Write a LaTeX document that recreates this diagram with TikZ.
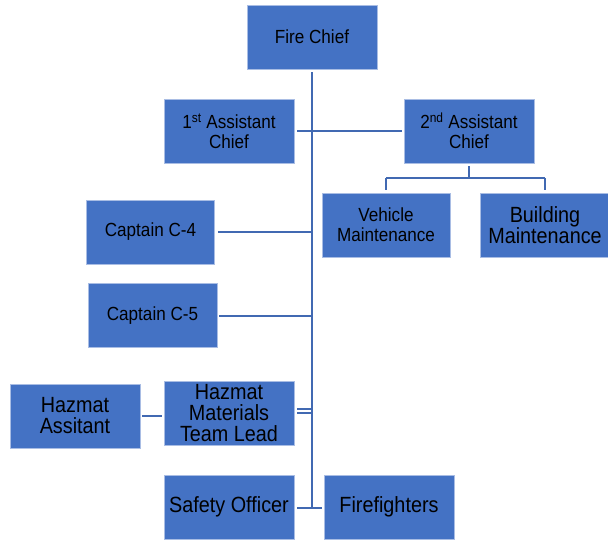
\documentclass[tikz,border=0pt]{standalone}
\usepackage{fontspec}
\setmainfont{Liberation Sans}
\newfontfamily\orgfont[FakeStretch=0.9]{Liberation Sans}
\definecolor{boxblue}{HTML}{4472C4}
\definecolor{boxedge}{HTML}{A9BDE4}
\definecolor{lineblue}{HTML}{4169B2}
\tikzset{
  orgbox/.style={rectangle, fill=boxblue, draw=boxedge, line width=0.8pt,
    minimum width=130pt, minimum height=64pt, inner sep=0pt, align=center,
    font=\orgfont\fontsize{19}{20}\selectfont, text=black},
  bigtext/.style={font=\orgfont\fontsize{22}{21}\selectfont},
  link/.style={draw=lineblue, line width=2pt}
}
\begin{document}
\begin{tikzpicture}[x=1pt,y=-1pt]
\useasboundingbox (0,0) rectangle (608,539);
\node[orgbox] (fc) at (312,37) {Fire Chief};
\node[orgbox] (a1) at (229,131) {1\textsuperscript{st} Assistant\\Chief};
\node[orgbox] (a2) at (469,131) {2\textsuperscript{nd} Assistant\\Chief};
\node[orgbox, minimum width=128pt] (veh) at (386,225) {Vehicle\\Maintenance};
\node[orgbox, bigtext] (bld) at (545,225) {Building\\Maintenance};
\node[orgbox, minimum width=128pt] (c4) at (150.5,232) {Captain C-4};
\node[orgbox, minimum width=129pt] (c5) at (152.5,315.5) {Captain C-5};
\node[orgbox, bigtext] (ha) at (75,416) {Hazmat\\Assitant};
\node[orgbox, bigtext] (hl) at (229,413) {Hazmat\\Materials\\Team Lead};
\node[orgbox, bigtext] (so) at (229,507) {Safety Officer};
\node[orgbox, bigtext] (ff) at (389,507) {Firefighters};
\coordinate (tend) at (312,507);
\coordinate (bus) at (469,178);
% trunk
\draw[link] ([yshift=-3pt]fc.south) -- (tend);
% assistants
\draw[link] ([xshift=3pt]a1.east) -- ([xshift=-2pt]a2.west);
% second assistant branch
\draw[link] ([yshift=-3pt]a2.south) -- (bus);
\draw[link] (veh.north |- bus) -- (bld.north |- bus);
\draw[link] (veh.north |- bus) -- ([yshift=3pt]veh.north);
\draw[link] (bld.north |- bus) -- ([yshift=3pt]bld.north);
% captains
\draw[link] ([xshift=3pt]c4.east) -- (c4.east -| tend);
\draw[link] ([xshift=2pt]c5.east) -- (c5.east -| tend);
% hazmat
\draw[link] ([xshift=2pt]ha.east) -- ([xshift=-2pt]ha.east -| hl.west);
\draw[draw=lineblue, line width=1.2pt] ([xshift=3pt]hl.east) -- (hl.east -| tend);
\draw[draw=lineblue, line width=1.2pt] ([xshift=3pt,yshift=4pt]hl.east) -- ([yshift=4pt]hl.east -| tend);
% bottom
\draw[link] ([xshift=3pt,yshift=-1pt]so.east) -- ([xshift=-2pt,yshift=-1pt]ff.west);
\end{tikzpicture}
\end{document}
